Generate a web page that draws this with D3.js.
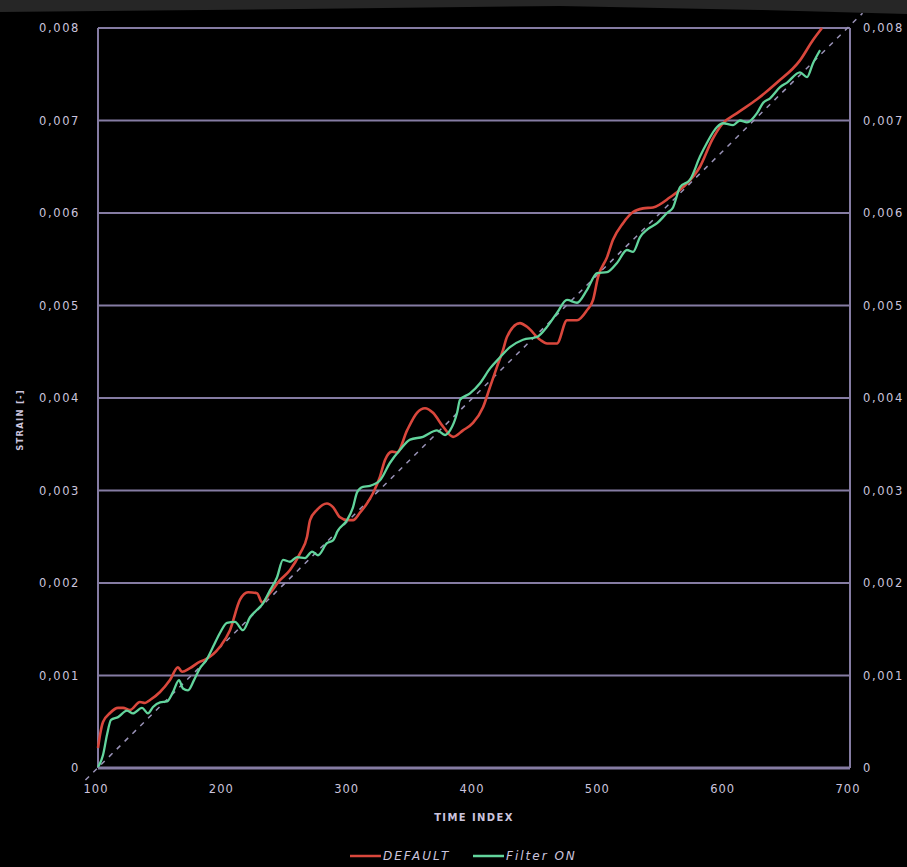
<!DOCTYPE html>
<html>
<head>
<meta charset="utf-8">
<script src="https://cdn.jsdelivr.net/npm/d3@7"></script>
<style>
  html, body { margin: 0; padding: 0; background: #000; }
  svg { display: block; }
</style>
</head>
<body>
<div id="chart"></div>
<script>
// Achsen
const yTicks = [0, 0.001, 0.002, 0.003, 0.004, 0.005, 0.006, 0.007, 0.008];
const xTicks = [100, 200, 300, 400, 500, 600, 700];

// Serie DEFAULT (Zeitindex, Dehnung)
const defaultX = [100, 101.6, 104, 109.6, 116, 120, 125.5, 133.5, 137.5, 141.5, 149.5, 157.4, 163.8, 167, 173.4, 181.4, 185.4, 197.3, 205.3, 213.3, 219.7, 226.9, 230.9, 237.2, 245.2, 253.2, 261.2, 266.8, 269.2, 274.7, 282.7, 287.5, 293.1, 298.7, 303.5, 309, 314.6, 319.4, 325, 329, 334.6, 338.6, 346.6, 354.5, 360.9, 367.3, 375.3, 383.3, 391.2, 399.2, 407.2, 412.8, 418.4, 423.2, 426.3, 436.7, 442.3, 452.7, 458.3, 466.2, 474.2, 482.2, 490.2, 495, 499, 506.1, 510.9, 518.9, 526.9, 534.9, 542.8, 556.4, 570, 580.3, 590, 597.9, 609.9, 625.8, 641.8, 660.1, 670.5, 677.7];
const defaultY = [0.000216, 0.000357, 0.000497, 0.000595, 0.00065, 0.00065, 0.000627, 0.000714, 0.000703, 0.000735, 0.000822, 0.000951, 0.00109, 0.00104, 0.00108, 0.00115, 0.00117, 0.00131, 0.00149, 0.00182, 0.0019, 0.00189, 0.00179, 0.00189, 0.00203, 0.00214, 0.00232, 0.0025, 0.00268, 0.00279, 0.00286, 0.00282, 0.00271, 0.00268, 0.00268, 0.00276, 0.00286, 0.00297, 0.00315, 0.00333, 0.00342, 0.00341, 0.00365, 0.00384, 0.00389, 0.00384, 0.00369, 0.00358, 0.00365, 0.00373, 0.0039, 0.00412, 0.00434, 0.00452, 0.00466, 0.00481, 0.00477, 0.00463, 0.00459, 0.00459, 0.00484, 0.00484, 0.00495, 0.00506, 0.00531, 0.00552, 0.00571, 0.00589, 0.00601, 0.00605, 0.00606, 0.00617, 0.00632, 0.0065, 0.00679, 0.00696, 0.00708, 0.00723, 0.00741, 0.00765, 0.00787, 0.008];

// Serie Filter ON
const filterX = [100, 104, 107.2, 110.4, 116, 123.1, 127.9, 135.1, 139.9, 143.9, 149.5, 155.1, 159.8, 164.6, 167.8, 171.8, 176.6, 181.4, 186.2, 191.8, 197.3, 202.9, 209.3, 215.7, 221.3, 226.9, 231.7, 237.2, 242.8, 247.6, 253.2, 258.8, 265.2, 270.8, 275.5, 282.7, 287.5, 291.5, 298.7, 303.5, 306.7, 311.4, 317, 325, 333, 341, 349, 359.3, 370.5, 376.9, 380.9, 386.5, 388.8, 396.8, 404.8, 412.8, 420.8, 428.7, 439.1, 450.3, 458.3, 466.2, 474.2, 482.2, 490.2, 498.2, 506.1, 514.1, 522.1, 526.9, 532.5, 538.1, 546.1, 554, 558.8, 564.4, 572.4, 580.3, 585.9, 593.9, 598.7, 606.7, 612.2, 617.8, 625.8, 630.6, 636.2, 644.2, 649.8, 660.1, 665.7, 670.5, 676.1];
const filterY = [0.000011, 0.00014, 0.00036, 0.00052, 0.00055, 0.00062, 0.00059, 0.00065, 0.00059, 0.00066, 0.00071, 0.00072, 0.00082, 0.00095, 0.00086, 0.00084, 0.00095, 0.00108, 0.00116, 0.00131, 0.00146, 0.00157, 0.00158, 0.00149, 0.00163, 0.00171, 0.00178, 0.00192, 0.00206, 0.00225, 0.00223, 0.00228, 0.00227, 0.00234, 0.0023, 0.00243, 0.00246, 0.00257, 0.00268, 0.00282, 0.00298, 0.00304, 0.00305, 0.00311, 0.0033, 0.00344, 0.00355, 0.00358, 0.00365, 0.0036, 0.00365, 0.00384, 0.00398, 0.00405, 0.00416, 0.00432, 0.00444, 0.00455, 0.00463, 0.00466, 0.00477, 0.00492, 0.00506, 0.00503, 0.00517, 0.00535, 0.00536, 0.00546, 0.0056, 0.00558, 0.00574, 0.00582, 0.00589, 0.006, 0.00606, 0.00628, 0.00636, 0.00661, 0.00676, 0.00693, 0.00697, 0.00695, 0.007, 0.00698, 0.00708, 0.00719, 0.00724, 0.00736, 0.00741, 0.00752, 0.00747, 0.00762, 0.00776];

// gestrichelte Referenzlinie
const refX = [90, 710];
const refY = [-0.00013, 0.00816];

const width = 907, height = 867;
const plotLeft = 98, plotRight = 850, plotTop = 28, plotBottom = 768;

const gridColor = "#857ca3";
const textColor = "#cbc4dd";
const redColor = "#d9473c";
const greenColor = "#62d49c";
const font = "'DejaVu Sans', sans-serif";

const svg = d3.select("#chart").append("svg")
    .attr("width", width)
    .attr("height", height)
    .style("background", "#000");

// grauer Rand oben (Bildschirmfoto)
svg.append("path")
    .attr("d", `M0,0 L${width},0 L${width},14 L760,10 L560,6 L300,9 L0,12 Z`)
    .attr("fill", "#262626");

const x = d3.scaleLinear().domain([100, 700]).range([plotLeft, plotRight]);
const y = d3.scaleLinear().domain([0, 0.008]).range([plotBottom, plotTop]);

const fmt = v => v === 0 ? "0" : d3.format(".3f")(v).replace(".", ",");

// Gitterlinien
svg.append("g")
    .selectAll("line")
    .data(yTicks)
    .join("line")
    .attr("x1", plotLeft)
    .attr("x2", plotRight)
    .attr("y1", d => y(d))
    .attr("y2", d => y(d))
    .attr("stroke", gridColor)
    .attr("stroke-width", d => d === 0 ? 3 : 2);

// vertikale Rahmenlinien
svg.append("g")
    .selectAll("line")
    .data([100, 700])
    .join("line")
    .attr("x1", d => x(d))
    .attr("x2", d => x(d))
    .attr("y1", plotTop)
    .attr("y2", plotBottom)
    .attr("stroke", gridColor)
    .attr("stroke-width", 2);

// Achsenbeschriftung links
svg.append("g")
    .selectAll("text")
    .data(yTicks)
    .join("text")
    .attr("x", 80)
    .attr("y", d => y(d))
    .attr("dy", "0.35em")
    .attr("text-anchor", "end")
    .attr("fill", textColor)
    .style("font", `11.5px ${font}`)
    .style("letter-spacing", "1.6px")
    .text(fmt);

// Achsenbeschriftung rechts
svg.append("g")
    .selectAll("text")
    .data(yTicks)
    .join("text")
    .attr("x", 863)
    .attr("y", d => y(d))
    .attr("dy", "0.35em")
    .attr("fill", textColor)
    .style("font", `11.5px ${font}`)
    .style("letter-spacing", "1.6px")
    .text(fmt);

// x-Achse
svg.append("g")
    .selectAll("text")
    .data(xTicks)
    .join("text")
    .attr("x", d => x(d) - 2)
    .attr("y", 793)
    .attr("text-anchor", "middle")
    .attr("fill", textColor)
    .style("font", `11.5px ${font}`)
    .style("letter-spacing", "1px")
    .text(d => d);

svg.append("text")
    .attr("x", 474)
    .attr("y", 821)
    .attr("text-anchor", "middle")
    .attr("fill", textColor)
    .style("font", `bold 10px ${font}`)
    .style("letter-spacing", "1.4px")
    .text("TIME INDEX");

svg.append("text")
    .attr("transform", "translate(23,420) rotate(-90)")
    .attr("text-anchor", "middle")
    .attr("fill", textColor)
    .style("font", `bold 8.5px ${font}`)
    .style("letter-spacing", "1.2px")
    .text("STRAIN [-]");

// Referenzlinie
const line = d3.line().x(d => x(d[0])).y(d => y(d[1]));

svg.append("path")
    .datum(d3.zip(refX, refY))
    .attr("d", line)
    .attr("fill", "none")
    .attr("stroke", "#9a93b8")
    .attr("stroke-width", 1.5)
    .attr("stroke-dasharray", "5 6");

const smooth = d3.line().x(d => x(d[0])).y(d => y(d[1])).curve(d3.curveMonotoneX);

svg.append("path")
    .datum(d3.zip(defaultX, defaultY))
    .attr("d", smooth)
    .attr("fill", "none")
    .attr("stroke", redColor)
    .attr("stroke-width", 2.6)
    .attr("stroke-linejoin", "round");

svg.append("path")
    .datum(d3.zip(filterX, filterY))
    .attr("d", smooth)
    .attr("fill", "none")
    .attr("stroke", greenColor)
    .attr("stroke-width", 2.3)
    .attr("stroke-linejoin", "round");

// Legende
const legend = [
    {name: "DEFAULT", color: redColor, x0: 350},
    {name: "Filter ON", color: greenColor, x0: 473}
];
const lg = svg.append("g")
    .selectAll("g")
    .data(legend)
    .join("g")
    .attr("transform", d => `translate(${d.x0},856)`);

lg.append("line")
    .attr("x1", 0)
    .attr("x2", 31)
    .attr("stroke", d => d.color)
    .attr("stroke-width", 2.5);

lg.append("text")
    .attr("x", 33)
    .attr("dy", "0.35em")
    .attr("fill", textColor)
    .style("font", `italic 12px ${font}`)
    .style("letter-spacing", "2px")
    .text(d => d.name);
</script>
</body>
</html>
